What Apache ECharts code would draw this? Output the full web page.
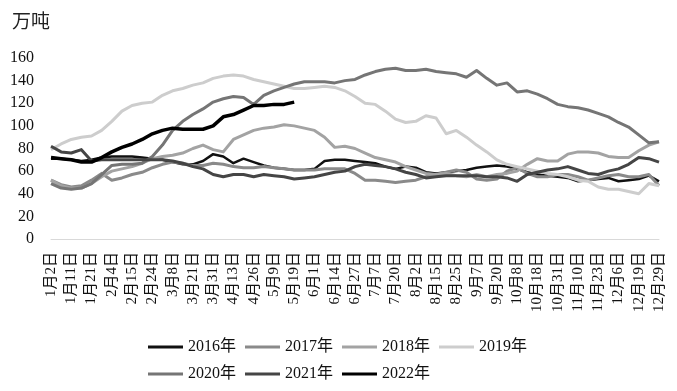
<!DOCTYPE html>
<html><head><meta charset="utf-8">
<script src="https://cdn.jsdelivr.net/npm/echarts@6/dist/echarts.min.js"></script>
<style>html,body{margin:0;padding:0;background:#fff}#c{width:677px;height:391px}</style>
</head><body><div id="c"></div>
<script>
var categories = ['1月2日','1月7日','1月11日','1月16日','1月21日','1月28日','2月4日','2月10日','2月15日','2月20日','2月24日','3月2日','3月8日','3月15日','3月21日','3月25日','3月31日','4月7日','4月13日','4月20日','4月26日','5月3日','5月9日','5月13日','5月19日','5月26日','6月1日','6月8日','6月14日','6月21日','6月27日','7月1日','7月7日','7月14日','7月20日','7月27日','8月2日','8月9日','8月15日','8月19日','8月25日','9月1日','9月7日','9月14日','9月20日','9月28日','10月8日','10月13日','10月18日','10月25日','10月31日','11月4日','11月10日','11月17日','11月23日','11月30日','12月6日','12月13日','12月19日','12月23日','12月29日'];
var yTicks = [0,20,40,60,80,100,120,140,160];
var s2016 = [71,71,70,69,70,72,73,73,73,72,71,70,68,66,66,69,75,73,67,71,68,65,63,62,61,61,62,69,70,70,69,68,67,64,62,64,63,59,58,59,60,61,63,64,65,64,62,59,57,56,55,54,51,52,53,54,51,52,53,56,51];
var s2017 = [52,48,46,47,52,58,52,54,57,59,63,66,68,67,65,65,67,66,64,63,63,64,63,62,61,61,61,62,62,62,58,52,52,51,50,51,52,55,57,59,61,59,53,52,53,60,63,58,55,55,57,57,55,52,54,56,57,55,55,57,47];
var s2018 = [52,47,45,45,49,55,60,62,64,67,71,73,74,76,80,83,79,77,88,92,96,98,99,101,100,98,96,90,81,82,80,76,72,70,68,64,61,58,57,58,56,55,57,55,57,58,60,66,71,69,69,75,77,77,76,73,72,72,78,83,86];
var s2019 = [79,84,88,90,91,96,104,113,118,120,121,127,131,133,136,138,142,144,145,144,141,139,137,135,133,133,134,135,134,131,126,120,119,113,106,103,104,109,107,93,96,90,83,77,70,66,64,62,60,58,57,55,52,51,46,44,44,42,40,49,47];
var s2020 = [49,45,44,45,49,57,65,66,66,67,73,83,96,104,110,115,121,124,126,125,119,127,131,134,137,139,139,139,138,140,141,145,148,150,151,149,149,150,148,147,146,143,149,142,136,138,130,131,128,124,119,117,116,114,111,108,103,99,92,85,86];
var s2021 = [82,77,76,79,69,70,70,70,70,70,70,70,69,67,64,62,57,55,57,57,55,57,56,55,53,54,55,57,59,60,64,66,65,64,62,59,57,54,55,56,56,56,56,55,55,54,51,57,59,61,62,64,61,58,57,60,62,66,72,71,68];
var s2022 = [72,71,70,68,68,72,77,81,84,88,93,96,98,97,97,97,100,108,110,114,118,118,119,119,121];
var names = ['2016年','2017年','2018年','2019年','2020年','2021年','2022年'];
var colors = ['#111111','#8a8a8a','#a3a3a3','#cdcdcd','#757575','#454545','#000000'];
var widths = [2.5,3,3,3,3,3,3.5];
var datas = [s2016,s2017,s2018,s2019,s2020,s2021,s2022];
var serif = '"Liberation Serif","Noto Sans CJK SC",serif';
var chart = echarts.init(document.getElementById('c'));
chart.setOption({
  animation:false,
  backgroundColor:'#fff',
  title:{text:'万吨',left:7,top:9,textStyle:{fontFamily:serif,fontSize:19,fontWeight:'normal',color:'#222'}},
  grid:{left:51,right:18,top:58,height:181,containLabel:false},
  legend:{left:148,top:338,width:400,padding:0,itemWidth:35,itemHeight:3,itemGap:9,icon:'rect',
    data:names,textStyle:{fontFamily:serif,fontSize:16,color:'#111',lineHeight:18,padding:[0,0,0,0]}},
  xAxis:{type:'category',data:categories,boundaryGap:false,
    axisLine:{lineStyle:{color:'#d9d9d9',width:1}},axisTick:{show:false},
    axisLabel:{interval:1,rotate:90,margin:13,fontFamily:serif,fontSize:15,color:'#111'}},
  yAxis:{type:'value',min:yTicks[0],max:yTicks[yTicks.length-1],interval:20,
    axisLine:{show:false},axisTick:{show:false},splitLine:{show:false},
    axisLabel:{margin:17,fontFamily:serif,fontSize:16,color:'#111'}},
  series:datas.map(function(d,i){return {name:names[i],type:'line',data:d,showSymbol:false,symbol:'none',
    itemStyle:{color:colors[i]},lineStyle:{color:colors[i],width:widths[i],join:'round'},z:2+i};})
});
</script></body></html>
